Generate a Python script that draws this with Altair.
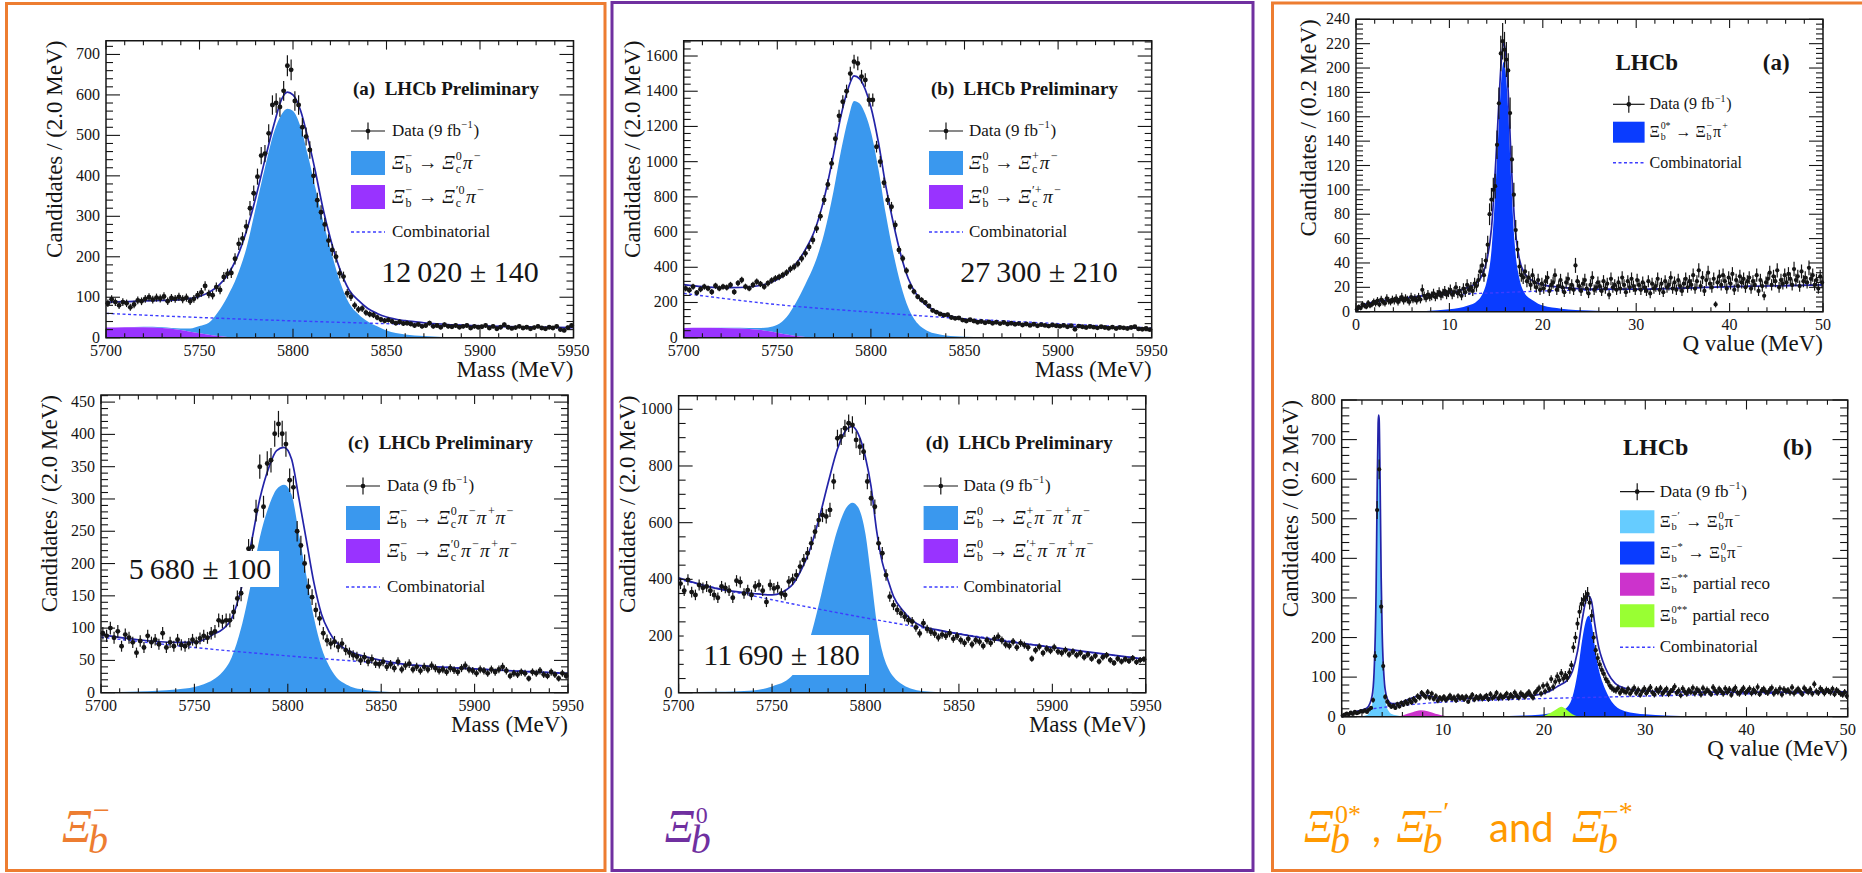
import altair as alt
import pandas as pd

# ---------------------------------------------------------------- style
W, H = 1862, 873
SERIF = "'Liberation Serif', 'Times New Roman', Times, serif"
SANS = "Lato, 'Open Sans', sans-serif"
INK = "#151515"
FIT_LINE = "#2323a8"
COMB_LINE = "#3d3dff"
SIG_FILL = "#3a98ee"
PART_FILL = "#9933ff"
STAR_FILL = "#0a3cff"
PRIME_FILL = "#66ccff"
MAGENTA_FILL = "#cc33cc"
GREEN_FILL = "#99ff33"
ORANGE = "#ED7D31"
VIOLET = "#7030A0"
AMBER = "#FF9900"

# ---------------------------------------------------------------- binning / ticks
MASS_RANGE = (5700, 5950)
MASS_BIN = 2.0
Q_RANGE = (0, 50)
Q_BIN = 0.2
MASS_TICKS = [5700, 5750, 5800, 5850, 5900, 5950]
Q_TICKS = [0, 10, 20, 30, 40, 50]
A_YTICKS = [0, 100, 200, 300, 400, 500, 600, 700]
C_YTICKS = [0, 50, 100, 150, 200, 250, 300, 350, 400, 450]
B_YTICKS = [0, 200, 400, 600, 800, 1000, 1200, 1400, 1600]
D_YTICKS = [0, 200, 400, 600, 800, 1000]
RA_YTICKS = [0, 20, 40, 60, 80, 100, 120, 140, 160, 180, 200, 220, 240]
RB_YTICKS = [0, 100, 200, 300, 400, 500, 600, 700, 800]

# ---------------------------------------------------------------- (a) Xi_b- -> Xi_c0 pi-
A_COUNTS = [
    85, 95, 88, 80, 88, 85, 75, 82, 92, 90,
    96, 100, 94, 99, 97, 102, 90, 98, 96, 101,
    95, 99, 90, 96, 105, 112, 128, 108, 105, 125,
    118, 150, 158, 160, 195, 232, 245, 275, 320, 357,
    398, 450, 455, 505, 575, 580, 570, 610, 672, 662,
    585, 575, 520, 497, 464, 400, 340, 310, 280, 240,
    217, 200, 159, 151, 110, 101, 80, 70, 72, 62,
    58, 56, 50, 45, 42, 44, 40, 36, 39, 35,
    36, 34, 30, 33, 28, 30, 36, 28, 30, 26,
    32, 28, 27, 30, 26, 28, 30, 24, 28, 26,
    27, 30, 24, 28, 22, 26, 32, 26, 23, 25,
    28, 24, 26, 22, 25, 28, 24, 22, 26, 24,
    28, 20, 18, 25, 30,
]
A_SHAPE_X = [5700, 5710, 5720, 5730, 5740, 5745, 5750, 5755, 5760, 5765, 5770, 5775,
             5780, 5785, 5790, 5794, 5797, 5800, 5804, 5808, 5812, 5816, 5820, 5825,
             5830, 5835, 5840, 5845, 5850, 5860, 5870, 5890, 5950]
A_SIGNAL = [0, 0, 1, 2, 4, 8, 18, 30, 60, 100, 150, 220, 320, 420, 510, 553, 566, 560,
            522, 450, 370, 290, 220, 140, 85, 58, 40, 28, 18, 8, 4, 1, 0]
A_PARTIAL = [25, 26, 26, 24, 19, 15, 11, 7, 4, 2, 1, 0, 0, 0, 0, 0, 0, 0, 0, 0, 0, 0,
             0, 0, 0, 0, 0, 0, 0, 0, 0, 0, 0]
A_FIT = [88, 89, 91, 92, 94, 97, 102, 112, 128, 155, 198, 262, 345, 440, 530, 590, 607,
         600, 562, 492, 410, 320, 245, 170, 118, 92, 72, 60, 51, 42, 37, 31, 25]
A_COMB_X = [5700, 5750, 5800, 5850, 5900, 5950]
A_COMB = [60, 50, 41.6, 34.7, 28.9, 24]

# ---------------------------------------------------------------- (c) Xi_b- -> Xi_c0 pi- pi+ pi-
C_COUNTS = [
    92, 88, 100, 85, 95, 72, 90, 85, 78, 62,
    80, 70, 88, 78, 82, 75, 92, 70, 78, 72,
    82, 74, 72, 76, 82, 78, 84, 88, 85, 92,
    95, 112, 110, 112, 112, 125, 146, 154, 190, 223,
    226, 282, 350, 288, 355, 360, 401, 416, 401, 385,
    329, 318, 250, 228, 200, 164, 148, 128, 115, 92,
    81, 76, 79, 71, 76, 66, 62, 58, 56, 50,
    55, 48, 52, 45, 44, 48, 40, 44, 38, 48,
    36, 42, 45, 36, 40, 34, 40, 36, 42, 38,
    34, 36, 32, 38, 35, 32, 38, 42, 36, 34,
    30, 36, 34, 30, 36, 32, 36, 40, 34, 26,
    30, 28, 32, 30, 22, 32, 30, 34, 28, 26,
    32, 28, 22, 30, 26,
]
C_SHAPE_X = [5700, 5720, 5740, 5750, 5755, 5760, 5765, 5770, 5775, 5780, 5785, 5790,
             5794, 5798, 5802, 5806, 5810, 5814, 5818, 5822, 5826, 5830, 5835, 5840,
             5850, 5860, 5880, 5900, 5925, 5950]
C_SIGNAL = [1, 2, 5, 9, 13, 20, 32, 55, 100, 165, 240, 290, 315, 322, 307, 245, 180, 116,
            70, 42, 24, 15, 8, 5, 2, 1, 0, 0, 0, 0]
C_PARTIAL = [0, 0, 0, 0, 0, 0, 0, 0, 0, 0, 0, 0, 0, 0, 0, 0, 0, 0, 0, 0, 0, 0, 0, 0,
             0, 0, 0, 0, 0, 0]
C_FIT = [90, 82, 78, 78, 82, 90, 98, 115, 160, 225, 300, 350, 375, 380, 362, 300, 235,
         170, 122, 95, 78, 69, 62, 57, 50, 45, 40, 37, 33, 30]
C_COMB_X = [5700, 5750, 5800, 5850, 5900, 5950]
C_COMB = [86, 70, 57, 46, 37, 30]

# ---------------------------------------------------------------- (b) Xi_b0 -> Xi_c+ pi-
B_COUNTS = [
    280, 270, 290, 255, 275, 290, 280, 260, 295, 280,
    290, 285, 300, 260, 310, 328, 290, 280, 300, 318,
    305, 290, 309, 325, 337, 345, 356, 370, 390, 403,
    420, 450, 479, 515, 555, 620, 690, 782, 870, 990,
    1130, 1260, 1340, 1400, 1500, 1568, 1558, 1483, 1464, 1350,
    1350, 1085, 1000, 880, 782, 744, 640, 498, 450, 380,
    290, 262, 233, 215, 200, 180, 155, 145, 135, 128,
    130, 115, 110, 112, 100, 95, 102, 95, 88, 92,
    85, 90, 82, 88, 80, 86, 78, 82, 76, 80,
    72, 78, 70, 76, 68, 74, 70, 66, 72, 68,
    65, 70, 62, 68, 48, 66, 62, 58, 64, 60,
    56, 62, 58, 54, 60, 52, 58, 56, 52, 58,
    62, 50, 48, 52, 46,
]
B_SHAPE_X = [5700, 5710, 5720, 5730, 5740, 5745, 5750, 5755, 5760, 5765, 5770, 5775,
             5780, 5784, 5788, 5791, 5794, 5797, 5800, 5804, 5808, 5812, 5816, 5820,
             5825, 5830, 5835, 5840, 5850, 5860, 5880, 5900, 5950]
B_SIGNAL = [0, 1, 2, 5, 10, 20, 45, 100, 190, 300, 420, 590, 830, 1060, 1250, 1345, 1330,
            1270, 1170, 960, 700, 480, 300, 170, 80, 40, 22, 13, 6, 3, 1, 0, 0]
B_PARTIAL = [55, 56, 55, 52, 45, 38, 28, 18, 10, 4, 1, 0, 0, 0, 0, 0, 0, 0, 0, 0, 0, 0,
             0, 0, 0, 0, 0, 0, 0, 0, 0, 0, 0]
B_FIT = [302, 290, 284, 285, 295, 308, 330, 365, 420, 500, 610, 790, 1040, 1260, 1420,
         1487, 1470, 1410, 1310, 1110, 860, 650, 470, 335, 235, 180, 150, 130, 106, 93,
         77, 67, 52]
B_COMB_X = [5700, 5750, 5800, 5850, 5900, 5950]
B_COMB = [252, 188, 145, 108, 80, 55]

# ---------------------------------------------------------------- (d) Xi_b0 -> Xi_c+ pi- pi+ pi-
D_COUNTS = [
    385, 360, 398, 355, 345, 380, 370, 375, 360, 345,
    335, 375, 370, 360, 335, 395, 390, 350, 362, 345,
    375, 380, 360, 320, 380, 368, 372, 350, 345, 392,
    400, 415, 445, 468, 492, 527, 568, 609, 627, 622,
    645, 745, 898, 904, 933, 951, 945, 892, 868, 850,
    745, 686, 656, 527, 492, 415, 339, 309, 292, 280,
    268, 256, 251, 230, 209, 245, 225, 215, 208, 195,
    205, 200, 210, 190, 200, 185, 175, 190, 170, 185,
    180, 165, 185, 175, 190, 198, 185, 170, 165, 180,
    160, 175, 168, 160, 120, 150, 162, 140, 155, 148,
    160, 145, 140, 150, 135, 145, 132, 140, 125, 135,
    120, 130, 110, 125, 132, 115, 105, 120, 110, 118,
    112, 122, 108, 115, 118,
]
D_SHAPE_X = [5700, 5720, 5740, 5750, 5760, 5765, 5770, 5775, 5780, 5785, 5790, 5793,
             5796, 5800, 5803, 5806, 5809, 5812, 5815, 5820, 5825, 5830, 5840, 5860,
             5900, 5950]
D_SIGNAL = [1, 3, 8, 22, 55, 100, 185, 310, 450, 575, 655, 670, 655, 560, 410, 250, 145,
            88, 56, 28, 13, 6, 2, 0, 0, 0]
D_PARTIAL = [0, 0, 0, 0, 0, 0, 0, 0, 0, 0, 0, 0, 0, 0, 0, 0, 0, 0, 0, 0, 0, 0, 0, 0, 0, 0]
D_FIT = [405, 368, 350, 345, 375, 425, 500, 610, 740, 860, 930, 940, 915, 830, 727, 570,
         460, 398, 340, 290, 255, 235, 220, 196, 160, 118]
D_COMB_X = [5700, 5725, 5750, 5775, 5800, 5825, 5850, 5875, 5900, 5925, 5950]
D_COMB = [400, 362, 328, 295, 264, 235, 208, 184, 160, 138, 118]

# ---------------------------------------------------------------- Q value, Xi_b0* -> Xi_b- pi+
RA_COUNTS = [
    2, 4, 3, 6, 5, 4, 7, 5, 6, 8,
    7, 9, 6, 10, 8, 7, 11, 9, 8, 10,
    9, 11, 8, 10, 12, 9, 11, 10, 8, 12,
    10, 11, 9, 12, 10, 18, 13, 11, 14, 12,
    13, 15, 12, 14, 16, 13, 15, 17, 14, 16,
    18, 14, 16, 20, 15, 17, 13, 19, 16, 22,
    18, 20, 17, 23, 21,
    26, 33, 38, 30, 42,
    55, 80, 92, 100, 103,
    137, 171, 212, 222, 215,
    207, 198, 163, 125, 96,
    67, 51, 37, 30, 28,
    33, 25, 28, 22, 30, 24, 20, 26, 18, 23,
    19, 25, 28, 17, 22, 24, 30, 18, 21, 26,
    20, 16, 24, 27, 19, 22, 18, 38, 25, 21,
    17, 23, 26, 19, 15, 22, 28, 18, 20, 24,
    21, 17, 25, 19, 23, 14, 27, 20, 22, 18,
    24, 19, 28, 22, 16, 25, 20, 27, 21, 18,
    26, 22, 18, 24, 20, 17, 25, 15, 23, 19,
    21, 27, 18, 23, 16, 25, 20, 22, 28, 19,
    24, 18, 26, 21, 17, 23, 27, 20, 25, 22,
    30, 19, 25, 34, 21, 28, 17, 26, 32, 23,
    20, 27, 6, 24, 29, 22, 30, 25, 19, 28,
    23, 31, 18, 26, 21, 29, 24, 27, 20, 25,
    28, 19, 25, 22, 30, 17, 26, 21, 13, 24,
    27, 32, 22, 29, 25, 34, 20, 26, 23, 30,
    24, 31, 27, 22, 35, 26, 29, 21, 33, 25,
    28, 24, 36, 27, 30, 22, 26, 19, 29, 24,
]
RA_SHAPE_X = [0, 0.5, 1, 2, 5, 10, 11, 12, 13, 13.5, 14, 14.5, 15, 15.3, 15.6, 15.8, 16.0,
              16.3, 16.6, 17.0, 17.5, 18, 19, 20, 22, 25, 30, 40, 50]
RA_SIGNAL = [0, 0, 0, 0, 0, 2, 3, 5, 9, 14, 25, 50, 110, 155, 195, 205, 198, 165, 110, 55,
             27, 16, 9, 5, 2.5, 1, 0, 0, 0]
RA_FIT = [0, 4, 6, 8, 11, 16, 17, 20, 24, 30, 42, 68, 128, 172, 210, 220, 214, 180, 126,
          72, 43, 32, 25, 22, 20, 18.5, 18.5, 20.5, 22]
RA_COMB_X = [0, 0.5, 1, 2, 5, 10, 15, 20, 30, 40, 50]
RA_COMB = [0, 4, 6, 8, 11, 14, 15.5, 17, 18.5, 20.5, 22]

# ---------------------------------------------------------------- Q value, Xi_b-' and Xi_b-* -> Xi_b0 pi-
RB_COUNTS = [
    3, 5, 8, 6, 10, 7, 12, 9, 11, 14,
    13, 16, 12, 18, 22,
    42, 153, 522, 625, 278,
    128, 50, 38, 30, 25,
    28, 22, 32, 26, 35,
    30, 38, 33, 42, 36,
    45, 40, 52, 48, 60,
    55, 50, 62, 48, 58,
    45, 52, 40, 48, 44,
    50, 42, 47, 53, 45, 49, 41, 52, 46, 50,
    44, 51, 38, 48, 55, 43, 50, 46, 52, 45,
    49, 53, 44, 57, 47, 51, 60, 46, 54, 48,
    52, 58, 47, 55, 50, 61, 53, 48, 59, 55,
    50, 57, 62, 54, 48, 60, 66, 72, 58, 78,
    64, 80, 70, 95, 75,
    88, 102, 92, 110, 96,
    105, 98, 112, 130, 175,
    200, 235, 265, 285, 295,
    302, 310, 288, 255, 200,
    168, 148, 132, 118, 108,
    95, 88, 78, 72, 68,
    66, 72, 60, 68, 64,
    62, 70, 58, 66, 73, 60, 68, 55, 64, 71,
    59, 67, 74, 61, 56, 69, 63, 72, 58, 65,
    70, 57, 64, 68, 76, 60, 66, 54, 71, 63,
    58, 67, 62, 73, 59, 69, 65, 56, 72, 61,
    68, 63, 57, 74, 66, 60, 70, 64, 58, 71,
    62, 69, 55, 67, 73, 61, 58, 66, 72, 60,
    65, 71, 59, 68, 62, 75, 57, 66, 70, 63,
    60, 68, 73, 58, 66, 62, 71, 56, 69, 64,
    67, 61, 74, 59, 65, 70, 63, 57, 72, 66,
    62, 69, 58, 82, 64, 60, 71, 66, 59, 68,
    65, 61, 70, 57, 67, 63, 58, 55, 62, 52,
]
RB_SHAPE_X = [0, 0.5, 1, 2, 2.5, 3.0, 3.2, 3.4, 3.5, 3.6, 3.65, 3.7, 3.8, 3.9, 4.0, 4.2,
              4.4, 4.7, 5, 5.5, 6, 7, 7.8, 8.5, 9.5, 10.5, 12, 15, 18, 19.5, 20.5, 21.3,
              21.7, 22.2, 22.8, 23.3, 23.8, 24.1, 24.4, 24.7, 25.0, 25.4, 25.8, 26.3, 27,
              28, 30, 32, 35, 40, 45, 50]
RB_PRIME = [0, 0, 0, 1, 4, 30, 90, 300, 540, 720, 750, 730, 560, 330, 190, 70, 30, 12, 6,
            3, 1, 0, 0, 0, 0, 0, 0, 0, 0, 0, 0, 0, 0, 0, 0, 0, 0, 0, 0, 0, 0, 0, 0, 0, 0,
            0, 0, 0, 0, 0, 0, 0]
RB_STAR = [0, 0, 0, 0, 0, 0, 0, 0, 0, 0, 0, 0, 0, 0, 0, 0, 0, 0, 0, 0, 0, 0, 0, 0, 0, 0,
           0, 1, 3, 5, 8, 12, 15, 22, 50, 110, 200, 240, 255, 235, 180, 120, 85, 55, 28,
           14, 6, 3, 1, 0, 0, 0]
RB_MINUS_PARTIAL = [0, 0, 0, 0, 0, 0, 0, 0, 0, 0, 0, 0, 0, 0, 0, 0, 0, 0, 0, 0, 3, 11, 16,
                    14, 6, 1, 0, 0, 0, 0, 0, 0, 0, 0, 0, 0, 0, 0, 0, 0, 0, 0, 0, 0, 0, 0,
                    0, 0, 0, 0, 0, 0]
RB_ZERO_PARTIAL = [0, 0, 0, 0, 0, 0, 0, 0, 0, 0, 0, 0, 0, 0, 0, 0, 0, 0, 0, 0, 0, 0, 0, 0,
                   0, 0, 0, 0, 0, 0, 8, 20, 25, 18, 6, 1, 0, 0, 0, 0, 0, 0, 0, 0, 0, 0, 0,
                   0, 0, 0, 0, 0]
RB_FIT = [0, 6, 10, 17, 22, 52, 112, 322, 562, 742, 762, 752, 582, 352, 212, 93, 54, 37,
          33, 33, 37, 48, 54, 53, 47, 45, 46, 48, 52, 56, 64, 76, 82, 90, 115, 165, 250,
          290, 305, 290, 235, 175, 140, 110, 85, 72, 65, 63, 62, 62, 62, 63]
RB_COMB_X = [0, 0.5, 1, 2, 3, 5, 8, 10, 15, 20, 25, 30, 35, 40, 45, 50]
RB_COMB = [0, 6, 10, 16, 20, 26, 33, 37, 42, 46, 49, 52, 55, 58, 60, 63]

# ---------------------------------------------------------------- frames of the six plots (pixels)
FRAMES = {
    "a": dict(left=106.0, right=573.5, top=40.7, bottom=337.7),
    "c": dict(left=101.0, right=568.0, top=395.0, bottom=692.7),
    "b": dict(left=683.7, right=1151.7, top=40.7, bottom=337.7),
    "d": dict(left=678.6, right=1145.8, top=395.7, bottom=692.7),
    "ra": dict(left=1356.0, right=1823.0, top=19.3, bottom=311.7),
    "rb": dict(left=1341.7, right=1847.7, top=400.0, bottom=716.7),
}

# ---------------------------------------------------------------- decoration collectors
TEXTS, RULES, DASHES, FILLS, OUTLINES, DOTS = [], [], [], [], [], []

CHAR_EM = {
    " ": 0.25, "(": 0.333, ")": 0.333, "0": 0.5, "1": 0.5, "9": 0.5, "a": 0.444,
    "b": 0.5, "c": 0.444, "D": 0.722, "e": 0.444, "f": 0.333, "i": 0.278, "l": 0.278,
    "o": 0.5, "p": 0.5, "r": 0.333, "t": 0.278, "Ξ": 0.66, "π": 0.55, "→": 1.0,
    "+": 0.564, "−": 0.564, "′": 0.28, "*": 0.5,
}


def em(s):
    return sum(CHAR_EM.get(ch, 0.5) for ch in s)


def put(x, y, text, size, color=INK, font=SERIF, weight="normal", style="normal",
        align="left", baseline="middle", angle=0):
    TEXTS.append(dict(px=float(x), py=float(y), text=text, size=float(size), color=color,
                      font=font, weight=weight, style=style, align=align,
                      baseline=baseline, angle=float(angle)))


def rich(x, y, segs, size, color=INK, italic_greek=True):
    """Base text followed by stacked sub/superscripts, ROOT-legend style."""
    cx = x
    for base, sub, sup in segs:
        if base:
            lead = len(base) - len(base.lstrip(" "))
            trail = len(base) - len(base.rstrip(" "))
            core = base.strip(" ")
            cx += lead * 0.25 * size
            style = "italic" if (italic_greek and core in ("Ξ", "π")) else "normal"
            put(cx, y, core, size, color=color, style=style)
            cx += em(core) * size + trail * 0.25 * size
        if sub or sup:
            ss = 0.62 * size
            cx += 0.6
            if sub:
                put(cx, y + 0.33 * size, sub, ss, color=color)
            if sup:
                put(cx, y - 0.36 * size, sup, ss, color=color)
            cx += max(em(sub or ""), em(sup or "")) * ss + 0.8


def seg(x1, y1, x2, y2, color=INK, w=1.2):
    RULES.append(dict(x1=x1, y1=y1, x2=x2, y2=y2, c=color, w=w))


DATA_LABEL = [("Data (9 fb", None, "−1"), (")", None, None)]


def legend(xb0, xb1, xt, size, rows, half, italic_greek=True, decay_size=None):
    xc = (xb0 + xb1) / 2
    for row in rows:
        kind, y = row[0], row[1]
        if kind == "data":
            seg(xb0, y, xb1, y, INK, 1.2)
            seg(xc, y - 8.5, xc, y + 8.5, INK, 1.2)
            DOTS.append(dict(x=xc, y=y))
            rich(xt, y, DATA_LABEL, size, italic_greek=False)
        elif kind == "box":
            FILLS.append(dict(x1=xb0, x2=xb1, y1=y - half, y2=y + half, c=row[2]))
            rich(xt, y, row[3], decay_size or size, italic_greek=italic_greek)
        else:
            DASHES.append(dict(x1=xb0, x2=xb1, y1=y, y2=y))
            put(xt, y, "Combinatorial", size)


def axis_titles(fr, xtitle, ytitle, ygap=51):
    put(fr["right"], fr["bottom"] + 32.5, xtitle, 23, align="right")
    put(fr["left"] - ygap, fr["top"], ytitle, 23, align="right", angle=270)


# ---------------------------------------------------------------- one histogram panel
def hist_table(counts, lo, width):
    rows = []
    for i, n in enumerate(counts):
        c = lo + width * (i + 0.5)
        e = n ** 0.5
        rows.append(dict(x=c, xl=c - width / 2, xr=c + width / 2, n=n,
                         lo=max(n - e, 0), hi=n + e))
    return pd.DataFrame(rows)


def steps(lo, hi, step, skip):
    n = int(round((hi - lo) / step))
    vals = [round(lo + k * step, 6) for k in range(n + 1)]
    return [v for v in vals if all(abs(v - s) > 1e-6 for s in skip)]


def panel(fr, x_range, y_top, counts, bin_w, fills, comb, fit,
          xt, x_minor, yt, y_minor, tick_fs, msize):
    left, right, top, bottom = fr["left"], fr["right"], fr["top"], fr["bottom"]
    xlo, xhi = x_range
    xs = alt.Scale(domain=[xlo, xhi], range=[left, right], nice=False, zero=False)
    ys = alt.Scale(domain=[0, y_top], range=[bottom, top], nice=False, zero=False)

    def X(f):
        return alt.X(f, type="quantitative", scale=xs, axis=None)

    def Y(f):
        return alt.Y(f, type="quantitative", scale=ys, axis=None)

    layers = []
    for xv, top_v, base_v, color in fills:
        df = pd.DataFrame({"x": xv, "top": top_v, "base": base_v})
        layers.append(alt.Chart(df).mark_area(color=color, opacity=1, interpolate="monotone")
                      .encode(x=X("x"), y=Y("top"), y2=alt.Y2("base")))
    layers.append(alt.Chart(pd.DataFrame({"x": comb[0], "y": comb[1]}))
                  .mark_line(color=COMB_LINE, strokeWidth=1.4, strokeDash=[3, 2.5],
                             interpolate="monotone")
                  .encode(x=X("x"), y=Y("y")))
    layers.append(alt.Chart(pd.DataFrame({"x": fit[0], "y": fit[1]}))
                  .mark_line(color=FIT_LINE, strokeWidth=1.7, interpolate="monotone")
                  .encode(x=X("x"), y=Y("y")))

    hist = hist_table(counts, xlo, bin_w)
    layers.append(alt.Chart(hist).mark_rule(color=INK, strokeWidth=1.2)
                  .encode(x=X("x"), y=Y("lo"), y2=alt.Y2("hi")))
    layers.append(alt.Chart(hist).mark_rule(color=INK, strokeWidth=1.2)
                  .encode(x=X("xl"), x2=alt.X2("xr"), y=Y("n")))
    layers.append(alt.Chart(hist).mark_circle(color=INK, opacity=1, size=msize)
                  .encode(x=X("x"), y=Y("n")))

    frame = pd.DataFrame({"x0": [xlo], "x1": [xhi], "y0": [0], "y1": [y_top]})
    layers.append(alt.Chart(frame).mark_rect(fillOpacity=0, stroke=INK, strokeWidth=1.5)
                  .encode(x=X("x0"), x2=alt.X2("x1"), y=Y("y0"), y2=alt.Y2("y1")))

    # inward ticks on all four sides, ROOT style
    px_x = (right - left) / (xhi - xlo)
    px_y = (bottom - top) / y_top
    lx = 0.03 * (bottom - top) / px_y
    ly = 0.03 * (right - left) / px_x
    rows = []
    for v in xt:
        rows += [(v, v, 0, lx), (v, v, y_top, y_top - lx)]
    for v in steps(xlo, xhi, x_minor, xt):
        rows += [(v, v, 0, lx / 2), (v, v, y_top, y_top - lx / 2)]
    for v in yt:
        rows += [(xlo, xlo + ly, v, v), (xhi, xhi - ly, v, v)]
    for v in steps(0, y_top, y_minor, yt):
        if v < y_top:
            rows += [(xlo, xlo + ly / 2, v, v), (xhi, xhi - ly / 2, v, v)]
    ticks = pd.DataFrame(rows, columns=["x", "x2", "y", "y2"])
    layers.append(alt.Chart(ticks).mark_rule(color=INK, strokeWidth=1.1)
                  .encode(x=X("x"), x2=alt.X2("x2"), y=Y("y"), y2=alt.Y2("y2")))

    xl = pd.DataFrame({"v": xt, "y0": [0] * len(xt), "t": [str(v) for v in xt]})
    layers.append(alt.Chart(xl).mark_text(font=SERIF, fontSize=tick_fs, color=INK,
                                          align="center", baseline="middle", dy=13)
                  .encode(x=X("v"), y=Y("y0"), text="t:N"))
    yl = pd.DataFrame({"v": yt, "x0": [xlo] * len(yt), "t": [str(v) for v in yt]})
    layers.append(alt.Chart(yl).mark_text(font=SERIF, fontSize=tick_fs, color=INK,
                                          align="right", baseline="middle", dx=-6)
                  .encode(x=X("x0"), y=Y("v"), text="t:N"))
    return alt.layer(*layers)


def stacked(xv, part, sig, sig_color, part_color):
    total = [p + s for p, s in zip(part, sig)]
    zeros = [0] * len(xv)
    return [(xv, total, part, sig_color), (xv, part, zeros, part_color)]


def alone(xv, vals, color):
    return (xv, vals, [0] * len(xv), color)


# ---------------------------------------------------------------- the six plots
panels = [
    panel(FRAMES["a"], MASS_RANGE, 734, A_COUNTS, MASS_BIN,
          stacked(A_SHAPE_X, A_PARTIAL, A_SIGNAL, SIG_FILL, PART_FILL),
          (A_COMB_X, A_COMB), (A_SHAPE_X, A_FIT), MASS_TICKS, 10, A_YTICKS, 20, 16, 24),
    panel(FRAMES["c"], MASS_RANGE, 461, C_COUNTS, MASS_BIN,
          stacked(C_SHAPE_X, C_PARTIAL, C_SIGNAL, SIG_FILL, PART_FILL),
          (C_COMB_X, C_COMB), (C_SHAPE_X, C_FIT), MASS_TICKS, 10, C_YTICKS, 10, 16, 24),
    panel(FRAMES["b"], MASS_RANGE, 1687, B_COUNTS, MASS_BIN,
          stacked(B_SHAPE_X, B_PARTIAL, B_SIGNAL, SIG_FILL, PART_FILL),
          (B_COMB_X, B_COMB), (B_SHAPE_X, B_FIT), MASS_TICKS, 10, B_YTICKS, 40, 16, 24),
    panel(FRAMES["d"], MASS_RANGE, 1048, D_COUNTS, MASS_BIN,
          stacked(D_SHAPE_X, D_PARTIAL, D_SIGNAL, SIG_FILL, PART_FILL),
          (D_COMB_X, D_COMB), (D_SHAPE_X, D_FIT), MASS_TICKS, 10, D_YTICKS, 50, 16, 24),
    panel(FRAMES["ra"], Q_RANGE, 240, RA_COUNTS, Q_BIN,
          [alone(RA_SHAPE_X, RA_SIGNAL, STAR_FILL)],
          (RA_COMB_X, RA_COMB), (RA_SHAPE_X, RA_FIT), Q_TICKS, 2, RA_YTICKS, 4, 16, 18),
    panel(FRAMES["rb"], Q_RANGE, 800, RB_COUNTS, Q_BIN,
          [alone(RB_SHAPE_X, RB_PRIME, PRIME_FILL),
           alone(RB_SHAPE_X, RB_MINUS_PARTIAL, MAGENTA_FILL),
           alone(RB_SHAPE_X, RB_STAR, STAR_FILL),
           alone(RB_SHAPE_X, RB_ZERO_PARTIAL, GREEN_FILL)],
          (RB_COMB_X, RB_COMB), (RB_SHAPE_X, RB_FIT), Q_TICKS, 2, RB_YTICKS, 20, 16.5, 18),
]

# ---------------------------------------------------------------- axis titles
for key in ("a", "c", "b", "d"):
    axis_titles(FRAMES[key], "Mass (MeV)", "Candidates / (2.0 MeV)")
axis_titles(FRAMES["ra"], "Q value (MeV)", "Candidates / (0.2 MeV)", ygap=47)
axis_titles(FRAMES["rb"], "Q value (MeV)", "Candidates / (0.2 MeV)")

# ---------------------------------------------------------------- legends
XIB_M = ("Ξ", "b", "−")
XIB_0 = ("Ξ", "b", "0")
ARROW = (" → ", None, None)
PIM = ("π", None, "−")
PIP = ("π", None, "+")
LAB_A1 = [XIB_M, ARROW, ("Ξ", "c", "0"), PIM]
LAB_A2 = [XIB_M, ARROW, ("Ξ", "c", "′0"), PIM]
LAB_B1 = [XIB_0, ARROW, ("Ξ", "c", "+"), PIM]
LAB_B2 = [XIB_0, ARROW, ("Ξ", "c", "′+"), PIM]
LAB_C1 = LAB_A1 + [PIP, PIM]
LAB_C2 = LAB_A2 + [PIP, PIM]
LAB_D1 = LAB_B1 + [PIP, PIM]
LAB_D2 = LAB_B2 + [PIP, PIM]
LAB_RA = [("Ξ", "b", "0*"), ARROW, XIB_M, PIP]
LAB_RB1 = [("Ξ", "b", "−′"), ARROW, XIB_0, PIM]
LAB_RB2 = [("Ξ", "b", "−*"), ARROW, XIB_0, PIM]
LAB_RB3 = [("Ξ", "b", "−**"), (" partial reco", None, None)]
LAB_RB4 = [("Ξ", "b", "0**"), (" partial reco", None, None)]

HEADERS = [("(a)", 353, 384.7, 89), ("(c)", 348, 378.7, 443),
           ("(b)", 931, 963.6, 89), ("(d)", 925.7, 958.5, 443)]
for tag, x_tag, x_name, y in HEADERS:
    put(x_tag, y, tag, 19, weight="bold")
    put(x_name, y, "LHCb Preliminary", 19, weight="bold")

legend(351, 385, 392, 17, [("data", 131), ("box", 163, SIG_FILL, LAB_A1),
                           ("box", 197, PART_FILL, LAB_A2), ("dash", 232)], 12,
       decay_size=19.5)
legend(346, 380, 387, 17, [("data", 486), ("box", 518, SIG_FILL, LAB_C1),
                           ("box", 551, PART_FILL, LAB_C2), ("dash", 587)], 12,
       decay_size=19.5)
legend(929, 963, 969, 17, [("data", 131), ("box", 163, SIG_FILL, LAB_B1),
                           ("box", 197, PART_FILL, LAB_B2), ("dash", 232)], 12,
       decay_size=19.5)
legend(923.6, 958, 963.5, 17, [("data", 486), ("box", 518, SIG_FILL, LAB_D1),
                               ("box", 551, PART_FILL, LAB_D2), ("dash", 587)], 12,
       decay_size=19.5)

put(1615.5, 63, "LHCb", 23, weight="bold")
put(1762.8, 63, "(a)", 23, weight="bold")
legend(1613, 1644.6, 1649.5, 16, [("data", 104.3), ("box", 132.2, STAR_FILL, LAB_RA),
                                  ("dash", 162.7)], 10.5, italic_greek=False)
put(1623, 448, "LHCb", 24, weight="bold")
put(1782.8, 448, "(b)", 24, weight="bold")
legend(1620, 1654.4, 1659.7, 17,
       [("data", 491.7), ("box", 521.7, PRIME_FILL, LAB_RB1),
        ("box", 553.0, STAR_FILL, LAB_RB2), ("box", 584.2, MAGENTA_FILL, LAB_RB3),
        ("box", 615.8, GREEN_FILL, LAB_RB4), ("dash", 647.3)], 11.5, italic_greek=False)

# ---------------------------------------------------------------- fitted yields
put(460, 273, "12\u2009020 ± 140", 30, align="center")
put(1039, 273, "27\u2009300 ± 210", 30, align="center")
FILLS.append(dict(x1=121, x2=279, y1=551, y2=587, c="white"))
put(200, 569.5, "5\u2009680 ± 100", 30, align="center")
FILLS.append(dict(x1=683.7, x2=869, y1=635, y2=675, c="white"))
put(781.5, 655.5, "11\u2009690 ± 180", 30, align="center")

# ---------------------------------------------------------------- grouping boxes and their captions
OUTLINES.append(dict(x1=6.5, x2=605, y1=3.5, y2=870.5, c=ORANGE, w=3))
OUTLINES.append(dict(x1=612, x2=1253, y1=2.5, y2=870.5, c=VIOLET, w=3))
OUTLINES.append(dict(x1=1272.5, x2=1870, y1=3, y2=870.5, c=ORANGE, w=3))


def caption_xi(x, color, sup, sup_base=821, sup_size=28):
    put(x, 842, "Ξ", 46, color=color, style="italic", baseline="alphabetic")
    put(x + 26, 852.5, "b", 40, color=color, style="italic", baseline="alphabetic")
    put(x + 31, sup_base, sup, sup_size, color=color, baseline="alphabetic")


caption_xi(62, ORANGE, "−", sup_base=819.5, sup_size=30)
caption_xi(664.7, VIOLET, "0", sup_base=823, sup_size=24)
caption_xi(1304, AMBER, "0*", sup_base=823, sup_size=26)
put(1372, 842, ",", 40, color=AMBER, font=SANS, baseline="alphabetic")
caption_xi(1396.5, AMBER, "−′", sup_base=821, sup_size=28)
put(1489, 842, "and", 40, color=AMBER, font=SANS, baseline="alphabetic")
caption_xi(1572, AMBER, "−*", sup_base=821, sup_size=28)

# ---------------------------------------------------------------- decoration layers (pixel placed)
PX = dict(scale=None)
decor = []
decor.append(alt.Chart(pd.DataFrame(FILLS)).mark_rect(opacity=1).encode(
    x=alt.X("x1:Q", **PX), x2="x2:Q", y=alt.Y("y1:Q", **PX), y2="y2:Q",
    color=alt.Color("c:N", scale=None)))
decor.append(alt.Chart(pd.DataFrame(OUTLINES)).mark_rect(fillOpacity=0).encode(
    x=alt.X("x1:Q", **PX), x2="x2:Q", y=alt.Y("y1:Q", **PX), y2="y2:Q",
    stroke=alt.Stroke("c:N", scale=None), strokeWidth=alt.StrokeWidth("w:Q", scale=None)))
decor.append(alt.Chart(pd.DataFrame(RULES)).mark_rule().encode(
    x=alt.X("x1:Q", **PX), x2="x2:Q", y=alt.Y("y1:Q", **PX), y2="y2:Q",
    color=alt.Color("c:N", scale=None), strokeWidth=alt.StrokeWidth("w:Q", scale=None)))
decor.append(alt.Chart(pd.DataFrame(DASHES)).mark_rule(
    color=COMB_LINE, strokeWidth=1.4, strokeDash=[3, 2.5]).encode(
    x=alt.X("x1:Q", **PX), x2="x2:Q", y=alt.Y("y1:Q", **PX), y2="y2:Q"))
decor.append(alt.Chart(pd.DataFrame(DOTS)).mark_circle(color=INK, opacity=1, size=22).encode(
    x=alt.X("x:Q", **PX), y=alt.Y("y:Q", **PX)))

tdf = pd.DataFrame(TEXTS)
for key, g in tdf.groupby(["font", "weight", "style", "align", "baseline", "angle"], sort=False):
    font, weight, style, align, baseline, angle = key
    decor.append(alt.Chart(g[["px", "py", "text", "size", "color"]].reset_index(drop=True))
                 .mark_text(font=font, fontWeight=weight, fontStyle=style, align=align,
                            baseline=baseline, angle=float(angle))
                 .encode(x=alt.X("px:Q", **PX), y=alt.Y("py:Q", **PX), text="text:N",
                         size=alt.Size("size:Q", scale=None),
                         color=alt.Color("color:N", scale=None)))

chart = (
    alt.layer(*panels, *decor)
    .resolve_scale(x="independent", y="independent")
    .properties(width=W, height=H, padding=0, autosize="none", background="white")
    .configure_view(strokeWidth=0)
)

chart.save("out.html", embed_options={"renderer": "svg", "actions": False})
